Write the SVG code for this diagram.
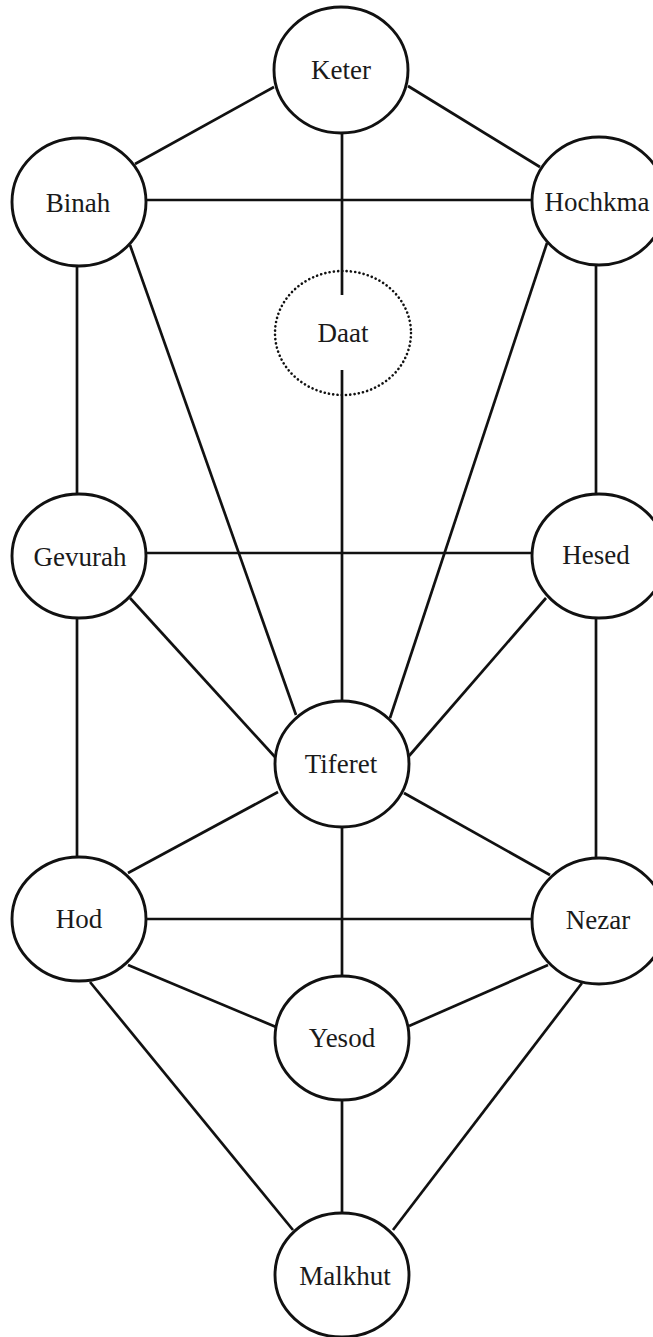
<svg xmlns="http://www.w3.org/2000/svg" width="653" height="1337" viewBox="0 0 653 1337">
  <style>
    .edge { stroke: #111; stroke-width: 2.7; fill: none; }
    .node ellipse { fill: #fff; stroke: #111; stroke-width: 2.9; }
    .node.dotted ellipse { fill: none; stroke-width: 2.6; stroke-dasharray: 0.1 4.2; stroke-linecap: round; }
    .node text { font-family: "Liberation Serif", "Times New Roman", serif; font-size: 27px; fill: #1a1a1a; text-anchor: middle; }
  </style>
  <rect width="653" height="1337" fill="#fff"/>

  <!-- paths between the sefirot -->
  <g id="connectors">
    <line class="edge" x1="274" y1="87" x2="135" y2="164"/>
    <line class="edge" x1="408" y1="86" x2="540" y2="167"/>
    <line class="edge" x1="342" y1="133" x2="342" y2="295"/>
    <line class="edge" x1="147" y1="200" x2="532" y2="200"/>
    <line class="edge" x1="77" y1="266" x2="77" y2="494"/>
    <line class="edge" x1="130" y1="245" x2="296" y2="715"/>
    <line class="edge" x1="596" y1="264" x2="596" y2="494"/>
    <line class="edge" x1="547" y1="243" x2="390" y2="718"/>
    <line class="edge" x1="342" y1="370" x2="342" y2="702"/>
    <line class="edge" x1="147" y1="553" x2="532" y2="553"/>
    <line class="edge" x1="130" y1="598" x2="275" y2="757"/>
    <line class="edge" x1="546" y1="598" x2="409" y2="756"/>
    <line class="edge" x1="77" y1="617" x2="77" y2="857"/>
    <line class="edge" x1="596" y1="617" x2="596" y2="858"/>
    <line class="edge" x1="278" y1="792" x2="128" y2="873"/>
    <line class="edge" x1="404" y1="793" x2="550" y2="875"/>
    <line class="edge" x1="147" y1="919" x2="532" y2="919"/>
    <line class="edge" x1="342" y1="827" x2="342" y2="975"/>
    <line class="edge" x1="128" y1="965" x2="276" y2="1027"/>
    <line class="edge" x1="548" y1="965" x2="409" y2="1026"/>
    <line class="edge" x1="90" y1="982" x2="293" y2="1230"/>
    <line class="edge" x1="582" y1="983" x2="393" y2="1230"/>
    <line class="edge" x1="342" y1="1100" x2="342" y2="1213"/>
  </g>

  <g id="keter" class="node"><ellipse cx="341" cy="70" rx="67" ry="63"/><text x="341" y="79">Keter</text></g>
  <g id="binah" class="node"><ellipse cx="79" cy="202" rx="67" ry="64"/><text x="78" y="212">Binah</text></g>
  <g id="hochkma" class="node"><ellipse cx="599" cy="201" rx="67" ry="64"/><text x="597" y="211">Hochkma</text></g>
  <g id="daat" class="node dotted"><ellipse cx="343" cy="333" rx="68" ry="62"/><text x="343" y="342">Daat</text></g>
  <g id="gevurah" class="node"><ellipse cx="79" cy="556" rx="67" ry="62"/><text x="80" y="566">Gevurah</text></g>
  <g id="hesed" class="node"><ellipse cx="599" cy="556" rx="67" ry="62"/><text x="596" y="564">Hesed</text></g>
  <g id="tiferet" class="node"><ellipse cx="342" cy="764" rx="67" ry="63"/><text x="341" y="773">Tiferet</text></g>
  <g id="hod" class="node"><ellipse cx="79" cy="919" rx="67" ry="62"/><text x="79" y="928">Hod</text></g>
  <g id="nezar" class="node"><ellipse cx="599" cy="921" rx="67" ry="63"/><text x="598" y="929">Nezar</text></g>
  <g id="yesod" class="node"><ellipse cx="342" cy="1038" rx="67" ry="62"/><text x="342" y="1047">Yesod</text></g>
  <g id="malkhut" class="node"><ellipse cx="342" cy="1275" rx="67" ry="62"/><text x="345" y="1285">Malkhut</text></g>
</svg>
